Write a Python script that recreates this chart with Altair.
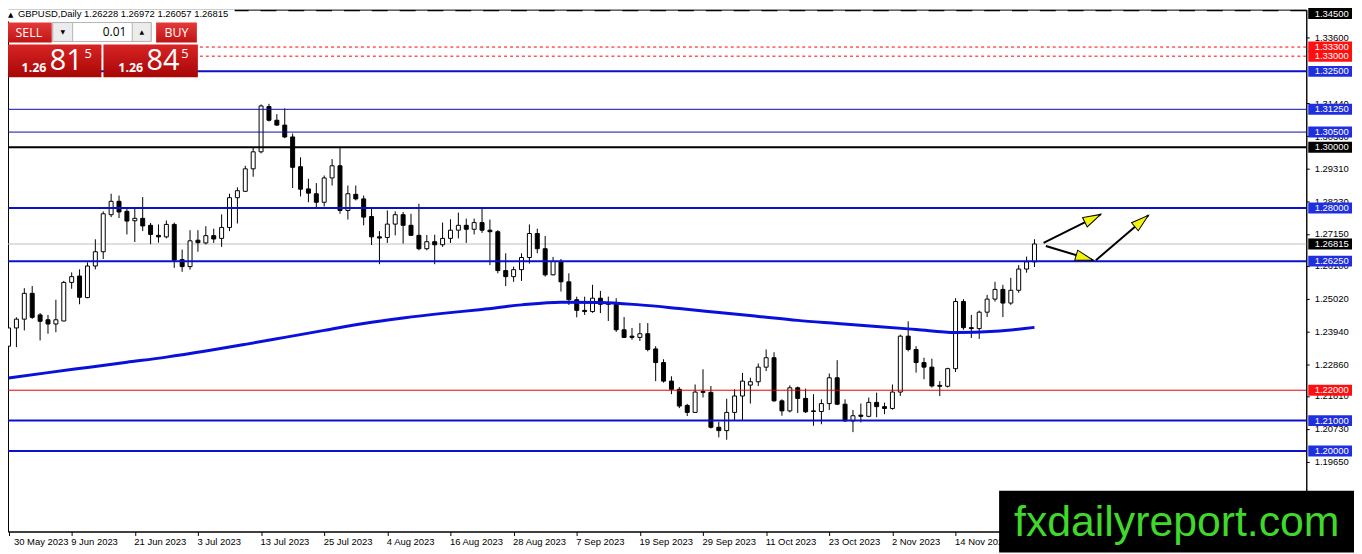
import math
import json
import pandas as pd
import altair as alt

# ---------------- data ----------------
opens = [1.2345,1.2405,1.2434,1.2519,1.2448,1.2432,1.2418,1.2428,1.2555,1.2576,
         1.2505,1.2609,1.2656,1.2778,1.2822,1.2789,1.2758,1.2766,1.2743,1.2710,
         1.2705,1.2746,1.2630,1.2607,1.2694,1.2685,1.2709,1.2700,1.2736,1.2834,
         1.2855,1.2929,1.2985,1.3134,1.3089,1.3073,1.3034,1.2936,1.2863,1.2847,
         1.2819,1.2899,1.2939,1.2792,1.2845,1.2830,1.2772,1.2705,1.2703,1.2747,
         1.2778,1.2743,1.2710,1.2666,1.2689,1.2679,1.2700,1.2727,1.2743,1.2730,
         1.2752,1.2727,1.2722,1.2594,1.2574,1.2597,1.2637,1.2716,1.2666,1.2580,
         1.2624,1.2557,1.2498,1.2463,1.2459,1.2503,1.2486,1.2483,1.2399,1.2378,
         1.2374,1.2386,1.2336,1.2291,1.2230,1.2203,1.2150,1.2127,1.2196,1.2193,
         1.2078,1.2067,1.2127,1.2181,1.2217,1.2228,1.2276,1.2307,1.2165,1.2132,
         1.2208,1.2173,1.2132,1.2130,1.2156,1.2241,1.2154,1.2099,1.2118,1.2114,
         1.2160,1.2146,1.2140,1.2194,1.2378,1.2334,1.2291,1.2276,1.2216,1.2213,
         1.2271,1.2492,1.2406,1.2403,1.2457,1.2500,1.2532,1.2487,1.2529,1.2599,
         1.26228]
highs = [1.2440,1.2440,1.2536,1.2543,1.2454,1.2448,1.2498,1.2560,1.2588,1.2598,
         1.2621,1.2697,1.2789,1.2847,1.2841,1.2800,1.2800,1.2836,1.2751,1.2746,
         1.2759,1.2752,1.2663,1.2727,1.2727,1.2740,1.2732,1.2779,1.2847,1.2868,
         1.2939,1.2999,1.3141,1.3143,1.3109,1.3128,1.3045,1.2967,1.2896,1.2882,
         1.2907,1.2961,1.3002,1.2874,1.2874,1.2841,1.2798,1.2724,1.2792,1.2789,
         1.2787,1.2781,1.2814,1.2711,1.2712,1.2752,1.2763,1.2785,1.2765,1.2765,
         1.2801,1.2762,1.2727,1.2651,1.2607,1.2651,1.2746,1.2732,1.2708,1.2639,
         1.2632,1.2585,1.2508,1.2508,1.2547,1.2527,1.2508,1.2503,1.2441,1.2405,
         1.2421,1.2421,1.2345,1.2302,1.2246,1.2210,1.2155,1.2219,1.2269,1.2214,
         1.2096,1.2172,1.2203,1.2257,1.2241,1.2288,1.2334,1.2325,1.2170,1.2216,
         1.2212,1.2205,1.2187,1.2170,1.2255,1.2299,1.2170,1.2135,1.2156,1.2176,
         1.2192,1.2159,1.2219,1.2383,1.2427,1.2345,1.2307,1.2304,1.2230,1.2274,
         1.2503,1.2500,1.2448,1.2462,1.2514,1.2557,1.2547,1.2570,1.2612,1.2640,
         1.26972]
lows = [1.2323,1.2342,1.2397,1.2435,1.2364,1.2386,1.2391,1.2427,1.2534,1.2483,
        1.2503,1.2598,1.2632,1.2770,1.2767,1.2713,1.2688,1.2724,1.2681,1.2686,
        1.2700,1.2603,1.2590,1.2597,1.2656,1.2680,1.2685,1.2672,1.2724,1.2749,
        1.2853,1.2903,1.2980,1.3085,1.3070,1.3030,1.2866,1.2838,1.2819,1.2798,
        1.2805,1.2874,1.2781,1.2762,1.2825,1.2743,1.2678,1.2615,1.2685,1.2710,
        1.2683,1.2708,1.2661,1.2661,1.2615,1.2672,1.2685,1.2700,1.2685,1.2713,
        1.2718,1.2612,1.2585,1.2543,1.2557,1.2560,1.2617,1.2651,1.2574,1.2578,
        1.2525,1.2481,1.2440,1.2448,1.2455,1.2454,1.2428,1.2392,1.2372,1.2366,
        1.2362,1.2328,1.2230,1.2225,1.2187,1.2141,1.2115,1.2125,1.2176,1.2074,
        1.2045,1.2037,1.2099,1.2099,1.2156,1.2214,1.2263,1.2162,1.2116,1.2127,
        1.2125,1.2125,1.2083,1.2088,1.2135,1.2151,1.2096,1.2062,1.2094,1.2111,
        1.2111,1.2121,1.2136,1.2181,1.2328,1.2258,1.2236,1.2209,1.2181,1.2209,
        1.2260,1.2399,1.2372,1.2369,1.2441,1.2492,1.2441,1.2481,1.2521,1.2587,
        1.26057]
closes = [1.2405,1.2434,1.2519,1.2440,1.2427,1.2418,1.2432,1.2555,1.2574,1.2506,
          1.2609,1.2656,1.2781,1.2822,1.2787,1.2757,1.2766,1.2741,1.2713,1.2705,
          1.2746,1.2628,1.2607,1.2692,1.2686,1.2709,1.2698,1.2736,1.2834,1.2857,
          1.2929,1.2985,1.3136,1.3089,1.3073,1.3034,1.2934,1.2862,1.2849,1.2819,
          1.2899,1.2939,1.2792,1.2847,1.2830,1.2770,1.2705,1.2701,1.2747,1.2778,
          1.2743,1.2710,1.2666,1.2689,1.2679,1.2700,1.2727,1.2743,1.2730,1.2752,
          1.2727,1.2722,1.2594,1.2574,1.2597,1.2637,1.2716,1.2666,1.2580,1.2624,
          1.2557,1.2498,1.2463,1.2459,1.2503,1.2483,1.2483,1.2399,1.2374,1.2374,
          1.2386,1.2334,1.2291,1.2230,1.2203,1.2148,1.2127,1.2194,1.2193,1.2078,
          1.2067,1.2127,1.2181,1.2230,1.2228,1.2276,1.2307,1.2165,1.2132,1.2208,
          1.2173,1.2129,1.2130,1.2156,1.2241,1.2154,1.2099,1.2116,1.2114,1.2160,
          1.2146,1.2140,1.2194,1.2378,1.2334,1.2291,1.2276,1.2214,1.2213,1.2271,
          1.2492,1.2406,1.2403,1.2457,1.2500,1.2532,1.2487,1.2529,1.2599,1.2623,
          1.26815]

# moving average (blue curve) read at every 5th bar
ma_idx = [0,5,10,15,20,25,30,35,40,45,50,55,60,65,70,75,80,85,90,95,100,105,110,115,120,125,130]
ma_val = [1.2240,1.2258,1.2275,1.2292,1.2309,1.2329,1.2351,1.2374,1.2397,1.2420,
          1.2438,1.2453,1.2466,1.2481,1.2490,1.2489,1.2481,1.2469,1.2456,1.2443,
          1.2430,1.2420,1.2410,1.2400,1.2390,1.2394,1.2407]

date_ticks = [0,8,16,24,32,40,48,56,64,72,80,88,96,104,112,120]
date_labels = ["30 May 2023","9 Jun 2023","21 Jun 2023","3 Jul 2023","13 Jul 2023",
               "25 Jul 2023","4 Aug 2023","16 Aug 2023","28 Aug 2023","7 Sep 2023",
               "19 Sep 2023","29 Sep 2023","11 Oct 2023","23 Oct 2023","2 Nov 2023",
               "14 Nov 2023"]
price_ticks = [1.3360,1.3144,1.3036,1.2931,1.2823,1.2715,1.2610,1.2502,1.2394,
               1.2286,1.2181,1.2073,1.1965]

blue_thick_levels = [1.3250,1.2800,1.2625,1.2100,1.2000]
blue_thin_levels = [1.3125,1.3050]
black_levels = [1.3000]
black_dashed_levels = [1.3450]
red_levels = [1.2200]
red_dotted_levels = [1.3330,1.3300]
current_price = [1.26815]

arrow_x0 = [131.15,131.44,137.78]
arrow_p0 = [1.2685,1.2675,1.2628]
arrow_x1 = [138.40,137.44,144.44]
arrow_p1 = [1.2779,1.2628,1.2776]

title_text = "GBPUSD,Daily 1.26228 1.26972 1.26057 1.26815"
lot_text = "0.01"
sell_prefix, sell_big, sell_pip = "1.26", "81", "5"
buy_prefix, buy_big, buy_pip = "1.26", "84", "5"
watermark = "fxdailyreport.com"

# ---------------- layout ----------------
W, H = 1306, 525
X_DOM = [0.5625, 163.8125]
Y_DOM = [1.173478, 1.345327]
FONT = "Liberation Sans"
BLUE = "#0a10cc"
TAG_COLORS = {"k": "#000000", "r": "#ff1010", "b": "#1f2fe0"}

xs = alt.Scale(domain=X_DOM, nice=False, zero=False)
ys = alt.Scale(domain=Y_DOM, nice=False, zero=False)

label_expr = f"{json.dumps(date_labels)}[indexof({json.dumps(date_ticks)}, datum.value)]"
xaxis = alt.Axis(values=date_ticks, labelExpr=label_expr, title=None, grid=False,
                 domainColor="black", tickColor="black", tickSize=4,
                 labelAlign="left", labelBaseline="top", labelPadding=1,
                 labelOffset=alt.condition("datum.value == 0", alt.value(5), alt.value(-1)),
                 labelFont=FONT, labelFontSize=9.5, labelColor="black",
                 labelOverlap=False, labelFlush=False)
yaxis = alt.Axis(orient="right", values=price_ticks, format=".5f", title=None, grid=False,
                 domainColor="black", tickColor="black", tickSize=3, labelPadding=5,
                 labelAlign="left", labelBaseline="middle", labelFont=FONT,
                 labelFontSize=9.5, labelColor="black", labelOverlap=False, labelFlush=False)


def X(f):
    return alt.X(f"{f}:Q", scale=xs, axis=xaxis)


def Y(f):
    return alt.Y(f"{f}:Q", scale=ys, axis=yaxis)


n = len(opens)
candles = pd.DataFrame({"i": list(range(n)), "open": opens, "high": highs,
                        "low": lows, "close": closes})
candles["fillc"] = ["white" if c >= o else "black" for o, c in zip(opens, closes)]

ma = pd.DataFrame({"i": ma_idx, "v": ma_val})


def levels(vals):
    return pd.DataFrame({"p": vals})


layers = []

# current price (grey) behind candles
layers.append(alt.Chart(levels(current_price)).mark_rule(color="#c0c0c0", strokeWidth=1)
              .encode(y=Y("p")))

# wicks and bodies
layers.append(alt.Chart(candles).mark_rule(color="black", strokeWidth=1, clip=True)
              .encode(x=X("i"), y=Y("low"), y2="high"))
layers.append(alt.Chart(candles).mark_bar(size=4, stroke="black", strokeWidth=1, clip=True)
              .encode(x=X("i"), y=Y("open"), y2="close",
                      fill=alt.Fill("fillc:N", scale=None)))

# horizontal levels
layers.append(alt.Chart(levels(blue_thick_levels)).mark_rule(color=BLUE, strokeWidth=2).encode(y=Y("p")))
layers.append(alt.Chart(levels(blue_thin_levels)).mark_rule(color="#0a0ca8", strokeWidth=1).encode(y=Y("p")))
layers.append(alt.Chart(levels(black_levels)).mark_rule(color="black", strokeWidth=2).encode(y=Y("p")))
layers.append(alt.Chart(levels(black_dashed_levels)).mark_rule(color="black", strokeWidth=1.3,
                                                              strokeDash=[16, 12]).encode(y=Y("p")))
layers.append(alt.Chart(levels(red_levels)).mark_rule(color="#e00000", strokeWidth=1).encode(y=Y("p")))
layers.append(alt.Chart(levels(red_dotted_levels)).mark_rule(color="#ff0000", strokeWidth=1,
                                                            strokeDash=[3, 3]).encode(y=Y("p")))

# moving average
layers.append(alt.Chart(ma).mark_line(color="#0a10dc", strokeWidth=3, interpolate="monotone", clip=True)
              .encode(x=X("i"), y=Y("v")))

# arrows
px_x = W / (X_DOM[1] - X_DOM[0])
px_y = H / (Y_DOM[1] - Y_DOM[0])
angles = []
for a, b, c, d in zip(arrow_x0, arrow_p0, arrow_x1, arrow_p1):
    dx = (c - a) * px_x
    dy = -(d - b) * px_y
    angles.append(math.degrees(math.atan2(dx, -dy)) % 360)
arrows = pd.DataFrame({"x0": arrow_x0, "p0": arrow_p0, "x1": arrow_x1, "p1": arrow_p1,
                       "ang": angles})
layers.append(alt.Chart(arrows).mark_rule(color="black", strokeWidth=2)
              .encode(x=X("x0"), y=Y("p0"), x2="x1", y2="p1"))
HEAD = "M0,0L0.5,1.7L-0.5,1.7Z"
layers.append(alt.Chart(arrows).mark_point(shape=HEAD, filled=True, fill="#f2f20a", stroke="black",
                                           strokeWidth=1, size=440, opacity=1)
              .encode(x=X("x1"), y=Y("p1"), angle=alt.Angle("ang:Q", scale=None)))

# price tags on the right axis
tag_rows = []
for p in black_levels + current_price:
    tag_rows.append((p, "k"))
for p in red_dotted_levels + red_levels:
    tag_rows.append((p, "r"))
for p in blue_thick_levels + blue_thin_levels:
    tag_rows.append((p, "b"))
tags = pd.DataFrame({"p": [t[0] for t in tag_rows],
                     "col": [TAG_COLORS[t[1]] for t in tag_rows]})
tags["lbl"] = [f"{p:.5f}" for p in tags["p"]]
layers.append(alt.Chart(tags).mark_rect(yOffset=-5.5, y2Offset=5.5, clip=False)
              .encode(y=Y("p"), y2="p", x=alt.value(W + 2), x2=alt.value(W + 46),
                      fill=alt.Fill("col:N", scale=None)))
layers.append(alt.Chart(tags).mark_text(align="left", baseline="middle", font=FONT, fontSize=9.5,
                                        color="white", clip=False)
              .encode(y=Y("p"), x=alt.value(W + 8.5), text="lbl:N"))

# top tag (1.34500) kept inside the page edge
top_tag = pd.DataFrame({"p": black_dashed_levels})
top_tag["lbl"] = [f"{p:.5f}" for p in top_tag["p"]]
layers.append(alt.Chart(top_tag).mark_rect(yOffset=-2.5, y2Offset=8.5, color="black", clip=False)
              .encode(y=Y("p"), y2="p", x=alt.value(W + 2), x2=alt.value(W + 46)))
layers.append(alt.Chart(top_tag).mark_text(align="left", baseline="middle", font=FONT, fontSize=9.5,
                                           color="white", dy=3.2, clip=False)
              .encode(y=Y("p"), x=alt.value(W + 8.5), text="lbl:N"))

one = pd.DataFrame({"k": [0]})


def box(x, x2, y, y2, **kw):
    return alt.Chart(one).mark_rect(**kw).encode(x=alt.value(x), x2=alt.value(x2),
                                                 y=alt.value(y), y2=alt.value(y2))


def txt(x, y, s, **kw):
    return alt.Chart(one).mark_text(text=s, **kw).encode(x=alt.value(x), y=alt.value(y))


def grad(c1, c2):
    return alt.Gradient(gradient="linear",
                        stops=[alt.GradientStop(color=c1, offset=0),
                               alt.GradientStop(color=c2, offset=1)],
                        x1=0, x2=0, y1=0, y2=1)

# symbol title
layers.append(box(0, 228, 0, 12, color="white"))
layers.append(txt(0, 7, "▲", align="left", baseline="alphabetic", fontSize=7, color="black", font="DejaVu Sans"))
layers.append(txt(10, 7, title_text, align="left", baseline="alphabetic", fontSize=9.5,
                  color="black", font=FONT))

# one-click trading panel
layers.append(box(-2, 44, 13, 33, color=grad("#e43a3a", "#c01414")))
layers.append(box(149, 190, 13, 33, color=grad("#e43a3a", "#c01414")))
layers.append(box(45, 144, 13, 32, fill="white", stroke="#b4b4b4", strokeWidth=1))
layers.append(box(45, 65, 13, 32, fill="#ececec", stroke="#b4b4b4", strokeWidth=1))
layers.append(box(125, 144, 13, 32, fill="#ececec", stroke="#b4b4b4", strokeWidth=1))
layers.append(box(-2, 94, 35, 68, color=grad("#d82424", "#a80606")))
layers.append(box(96, 191, 35, 68, color=grad("#d82424", "#a80606")))
layers.append(txt(21, 23.5, "SELL", align="center", baseline="middle", fontSize=12.5,
                  color="white", font="Open Sans"))
layers.append(txt(169.5, 23.5, "BUY", align="center", baseline="middle", fontSize=12.5,
                  color="white", font="Open Sans"))
layers.append(txt(119, 22.5, lot_text, align="right", baseline="middle", fontSize=12,
                  color="black", font="Open Sans"))
layers.append(txt(55, 22.5, "▼", align="center", baseline="middle", fontSize=6,
                  color="black", font="DejaVu Sans"))
layers.append(txt(134.5, 22.5, "▲", align="center", baseline="middle", fontSize=6,
                  color="black", font="DejaVu Sans"))
for x0, pre, big, pip in [(13.7, sell_prefix, sell_big, sell_pip),
                          (111, buy_prefix, buy_big, buy_pip)]:
    layers.append(txt(x0, 62.7, pre, align="left", baseline="alphabetic", fontSize=12.5,
                      fontWeight="bold", color="white", font="Open Sans"))
    layers.append(txt(x0 + 28.3, 60.5, big, align="left", baseline="alphabetic", fontSize=29,
                      color="white", font="Open Sans"))
    layers.append(txt(x0 + 63.3, 48.7, pip, align="left", baseline="alphabetic", fontSize=13,
                      color="white", font="Open Sans"))

# watermark
layers.append(box(997, 1354, 484, 546, color="black"))
layers.append(txt(1012, 530, watermark, align="left", baseline="alphabetic", fontSize=43,
                  color="#3fd82b", font=FONT))

chart = alt.layer(*layers).properties(
    width=W, height=H,
    autosize=alt.AutoSizeParams(type="none"),
    padding={"left": 0, "top": 0, "right": 48, "bottom": 21},
).configure_view(stroke="black", strokeWidth=1)

chart.save("out.html", embed_options={"renderer": "svg", "actions": False})
